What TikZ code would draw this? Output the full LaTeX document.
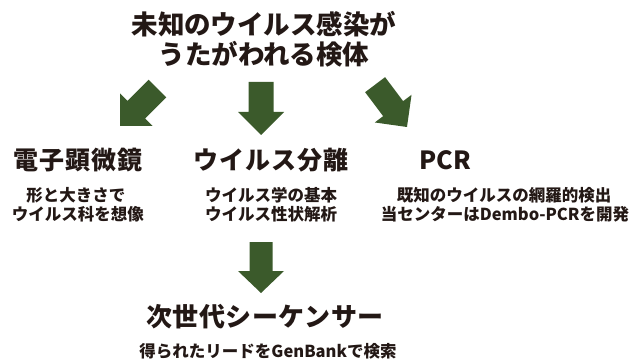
\documentclass[tikz,border=0pt]{standalone}
\usepackage{fontspec}
\setmainfont{Noto Sans CJK JP}
\definecolor{arrowgreen}{HTML}{3B5A2B}
\definecolor{ink}{HTML}{231815}
\begin{document}
\begin{tikzpicture}[x=1pt,y=-1pt,
  title/.style={anchor=base,inner sep=0pt,text=ink,font=\bfseries\fontsize{26.5}{30}\selectfont},
  head/.style={anchor=base,inner sep=0pt,text=ink,font=\bfseries\fontsize{25}{28}\selectfont\addfontfeature{LetterSpace=4}},
  sub/.style={anchor=base,inner sep=0pt,text=ink,font=\bfseries\fontsize{16.5}{19}\selectfont},
  blockarrow/.style={fill=arrowgreen,draw=none}]
\useasboundingbox (0,0) rectangle (633,361);
% title
\node[title] (t1) at (264,35) {未知のウイルス感染が};
\node[title] (t2) at (264,65) {うたがわれる検体};
% headings
\node[head] (em) at (78,170) {電子顕微鏡};
\node[head] (iso) at (271,170) {ウイルス分離};
\node[head,font=\bfseries\fontsize{25}{28}\selectfont] (pcr) at (445,170) {PCR};
\node[sub] (em1) at (76,201) {形と大きさで};
\node[sub] (em2) at (78,220) {ウイルス科を想像};
\node[sub] (iso1) at (271,201) {ウイルス学の基本};
\node[sub] (iso2) at (271,220) {ウイルス性状解析};
\node[sub] (pcr1) at (504,201) {既知のウイルスの網羅的検出};
\node[sub] (pcr2) at (505,220) {当センターはDembo-PCRを開発};
\node[head,font=\bfseries\fontsize{26}{30}\selectfont\addfontfeature{LetterSpace=2}] (ngs) at (265,326) {次世代シーケンサー};
\node[sub] (ngs1) at (268,357) {得られたリードをGenBankで検索};
% block arrows (local: tip at origin, pointing along +x)
\def\arrowpoly{(0,0) -- (-23,23) -- (-23,12.5) -- (-53,12.5) -- (-53,-12.5) -- (-23,-12.5) -- (-23,-23) -- cycle}
\fill[blockarrow,shift={(120,126)},rotate=-135] \arrowpoly;
\fill[blockarrow,shift={(261,135)},rotate=-90] \arrowpoly;
\fill[blockarrow,shift={(407,127)},rotate=-53] \arrowpoly;
\fill[blockarrow,shift={(261,293)},rotate=-90] (0,0) -- (-22,23) -- (-22,11.5) -- (-51,11.5) -- (-51,-11.5) -- (-22,-11.5) -- (-22,-23) -- cycle;
\end{tikzpicture}
\end{document}
